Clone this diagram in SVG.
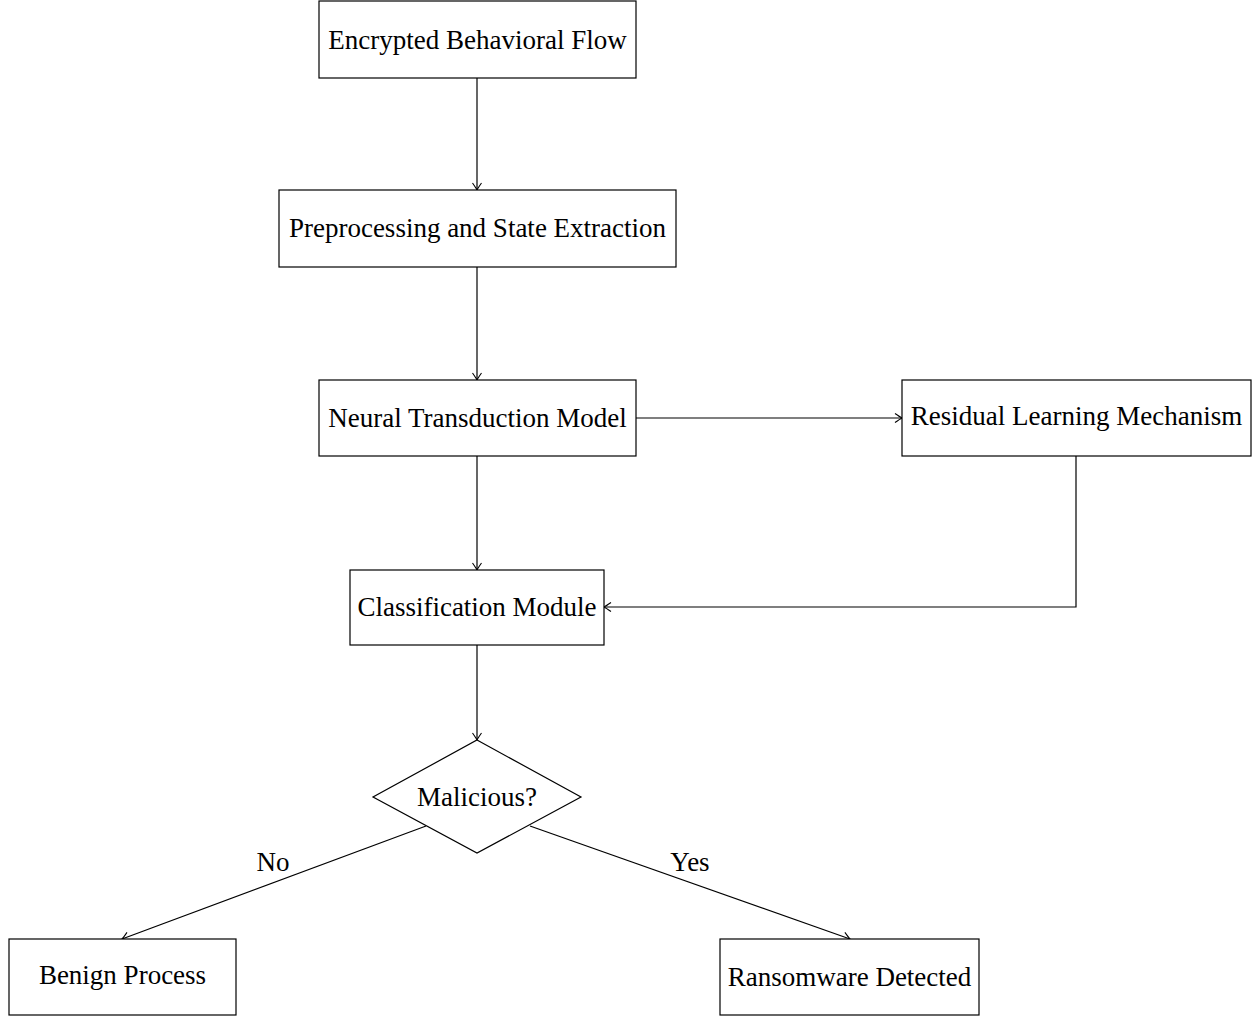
<svg xmlns="http://www.w3.org/2000/svg" width="1257" height="1017" viewBox="0 0 1257 1017">
<style>
.box{fill:#fff;stroke:#000;stroke-width:1.2}
.t{font-family:"Liberation Serif","Times New Roman",serif;font-size:27px;fill:#000;text-anchor:middle;dominant-baseline:central}
.c{fill:none;stroke:#000;stroke-width:1.2}
</style>
<defs>
<marker id="a" viewBox="-8 -6 10 12" refX="0" refY="0" markerWidth="10" markerHeight="12" markerUnits="userSpaceOnUse" orient="auto">
<path d="M-7,-4.5 Q-2,-1 0,0 Q-2,1 -7,4.5" fill="none" stroke="#000" stroke-width="1.1"/>
</marker>
</defs>
<rect width="1257" height="1017" fill="#fff"/>
<g id="connectors">
<line class="c" x1="477" y1="78" x2="477" y2="190" marker-end="url(#a)"/>
<line class="c" x1="477" y1="267" x2="477" y2="380" marker-end="url(#a)"/>
<line class="c" x1="636" y1="418" x2="902" y2="418" marker-end="url(#a)"/>
<line class="c" x1="477" y1="456" x2="477" y2="570" marker-end="url(#a)"/>
<polyline class="c" points="1076,456 1076,607 604,607" marker-end="url(#a)"/>
<line class="c" x1="477" y1="645" x2="477" y2="740" marker-end="url(#a)"/>
<line class="c" x1="426" y1="826" x2="122" y2="939" marker-end="url(#a)"/>
<line class="c" x1="530" y1="826" x2="850" y2="939" marker-end="url(#a)"/>
<text class="t" x="273" y="862">No</text>
<text class="t" x="690" y="862">Yes</text>
</g>
<g id="n1"><rect class="box" x="319" y="1" width="317" height="77"/><text class="t" x="477.5" y="39.5">Encrypted Behavioral Flow</text></g>
<g id="n2"><rect class="box" x="279" y="190" width="397" height="77"/><text class="t" x="477.5" y="228">Preprocessing and State Extraction</text></g>
<g id="n3"><rect class="box" x="319" y="380" width="317" height="76"/><text class="t" x="477.5" y="418">Neural Transduction Model</text></g>
<g id="n4"><rect class="box" x="902" y="380" width="349" height="76"/><text class="t" x="1076.5" y="416">Residual Learning Mechanism</text></g>
<g id="n5"><rect class="box" x="350" y="570" width="254" height="75"/><text class="t" x="477" y="607">Classification Module</text></g>
<g id="n6"><polygon class="box" points="477,740 581,797 477,853 373,797"/><text class="t" x="477" y="797">Malicious?</text></g>
<g id="n7"><rect class="box" x="9" y="939" width="227" height="76"/><text class="t" x="122.5" y="975">Benign Process</text></g>
<g id="n8"><rect class="box" x="720" y="939" width="259" height="76"/><text class="t" x="849.5" y="977">Ransomware Detected</text></g>
</svg>
